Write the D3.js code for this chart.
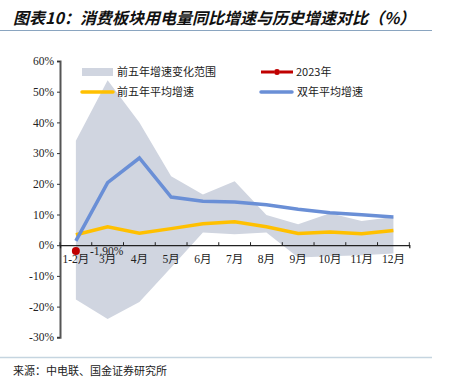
<!DOCTYPE html>
<html>
<head>
<meta charset="utf-8">
<script src="https://cdn.jsdelivr.net/npm/d3@7"></script>
<style>
  body { margin: 0; background: #fff; }
  svg { display: block; }
</style>
</head>
<body>
<svg width="450" height="384"></svg>
<script>
// data
var months = ['1-2月', '3月', '4月', '5月', '6月', '7月', '8月', '9月', '10月', '11月', '12月'];
var rangeHigh = [34, 53.7, 40, 22.5, 16.5, 20.8, 9.8, 6.8, 10.4, 7.9, 9.2];
var rangeLow = [-17.7, -24, -18.5, -7.3, 4.1, 3.6, 4.1, -4, -3.6, -3.3, -2.7];
var avg5 = [3.4, 6, 3.9, 5.4, 7, 7.6, 6, 3.8, 4.3, 3.7, 4.8];
var avg2 = [1.4, 20.4, 28.4, 15.7, 14.3, 14.1, 13.2, 11.7, 10.6, 9.9, 9.2];
var y2023 = [-1.9];
var yTicks = [-30, -20, -10, 0, 10, 20, 30, 40, 50, 60];

var svg = d3.select('svg');
var cjk = '"Noto Sans CJK SC", sans-serif';
var serif = '"Liberation Serif", "Noto Sans CJK SC", serif';

// title
svg.append('text')
  .attr('x', 13).attr('y', 24)
  .attr('font-family', cjk)
  .attr('font-size', 16)
  .attr('font-style', 'italic')
  .attr('font-weight', 'bold')
  .attr('fill', '#111')
  .text('图表10：消费板块用电量同比增速与历史增速对比（%）');
svg.append('line')
  .attr('x1', 0).attr('x2', 432).attr('y1', 30.5).attr('y2', 30.5)
  .attr('stroke', '#8aa5c0').attr('stroke-width', 1);

var x = d3.scaleBand().domain(months).range([60, 409.3]).padding(0);
var y = d3.scaleLinear().domain([-30, 60]).range([337.3, 61]);
var cx = function (d, i) { return x(months[i]) + x.bandwidth() / 2; };

// shaded range
var area = d3.area()
  .x(cx)
  .y0(function (d, i) { return y(rangeLow[i]); })
  .y1(function (d, i) { return y(rangeHigh[i]); });
svg.append('path')
  .datum(rangeHigh)
  .attr('d', area)
  .attr('fill', '#d0d5e0');

// axes
var yAxis = d3.axisLeft(y).tickValues(yTicks).tickSize(3).tickFormat(function (d) { return d + '%'; });
var gy = svg.append('g').attr('transform', 'translate(60,0)').call(yAxis);
gy.select('.domain').attr('stroke', '#555').attr('stroke-width', 2);
gy.selectAll('.tick line').attr('stroke', '#333');
gy.selectAll('.tick text').attr('x', -6)
  .attr('font-family', serif).attr('font-size', 11.5).attr('fill', '#222');

var xAxis = d3.axisBottom(x).tickSize(3).tickSizeOuter(3);
var gx = svg.append('g').attr('transform', 'translate(0,' + y(0) + ')').call(xAxis);
gx.select('.domain').attr('stroke', '#222').attr('stroke-width', 1.3);
gx.selectAll('.tick line').attr('transform', function () { return 'translate(' + (-x.bandwidth() / 2) + ',-3)'; }).attr('stroke', '#222');
gx.selectAll('.tick text').attr('dy', '0.71em').attr('y', 10)
  .attr('font-family', serif).attr('font-size', 11.5).attr('fill', '#222');
// tick at right end
gx.append('line').attr('x1', 409.3).attr('x2', 409.3).attr('y1', -3).attr('y2', 0).attr('stroke', '#222');

// lines
var line = d3.line().x(cx).y(function (d) { return y(d); });
svg.append('path').datum(avg5).attr('d', line)
  .attr('fill', 'none').attr('stroke', '#ffc000').attr('stroke-width', 3.5);
svg.append('path').datum(avg2).attr('d', line)
  .attr('fill', 'none').attr('stroke', '#6a8fd6').attr('stroke-width', 3.5);

// 2023 point
svg.selectAll('.p23').data(y2023).enter().append('circle')
  .attr('cx', cx).attr('cy', function (d) { return y(d); })
  .attr('r', 4).attr('fill', '#c00000');
svg.selectAll('.l23').data(y2023).enter().append('text')
  .attr('x', function (d, i) { return cx(d, i) + 14; })
  .attr('y', function (d) { return y(d) + 4; })
  .attr('font-family', serif)
  .attr('font-size', 11.5).attr('fill', '#222')
  .text(function (d) { return d.toFixed(2) + '%'; });

// legend
var lg = svg.append('g').attr('font-family', cjk).attr('font-size', 11).attr('fill', '#222');
lg.append('rect').attr('x', 82).attr('y', 68).attr('width', 31).attr('height', 8).attr('fill', '#d0d5e0');
lg.append('text').attr('x', 117).attr('y', 76).text('前五年增速变化范围');
lg.append('line').attr('x1', 82).attr('x2', 113).attr('y1', 92).attr('y2', 92)
  .attr('stroke', '#ffc000').attr('stroke-width', 3.5).attr('stroke-linecap', 'round');
lg.append('text').attr('x', 117).attr('y', 96).text('前五年平均增速');
lg.append('line').attr('x1', 261).attr('x2', 293).attr('y1', 72).attr('y2', 72)
  .attr('stroke', '#c00000').attr('stroke-width', 3).attr('stroke-dasharray', '13,6');
lg.append('circle').attr('cx', 277).attr('cy', 72).attr('r', 3).attr('fill', '#c00000');
lg.append('text').attr('x', 296).attr('y', 76).text('2023年');
lg.append('line').attr('x1', 261).attr('x2', 292).attr('y1', 92).attr('y2', 92)
  .attr('stroke', '#6a8fd6').attr('stroke-width', 3.5).attr('stroke-linecap', 'round');
lg.append('text').attr('x', 297).attr('y', 96).text('双年平均增速');

// footer
svg.append('line')
  .attr('x1', 0).attr('x2', 432).attr('y1', 357.5).attr('y2', 357.5)
  .attr('stroke', '#c5d5e0').attr('stroke-width', 1.5);
svg.append('text')
  .attr('x', 13).attr('y', 375)
  .attr('font-family', cjk).attr('font-size', 11).attr('fill', '#222')
  .text('来源：中电联、国金证券研究所');
</script>
</body>
</html>
